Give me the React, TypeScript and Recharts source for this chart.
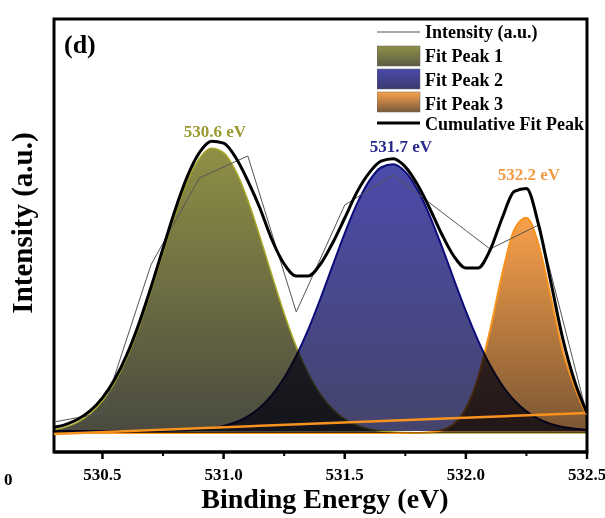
import React from 'react';
import {
  ComposedChart,
  Area,
  Line,
  XAxis,
  YAxis,
  Legend,
  ReferenceArea,
} from 'recharts';

// binding energy grid of the fitted curves (eV)
const energy = [
  530.3, 530.35, 530.4, 530.45, 530.5, 530.55, 530.6, 530.65, 530.7, 530.75,
  530.8, 530.85, 530.9, 530.95, 531.0, 531.05, 531.1, 531.15, 531.2, 531.25,
  531.3, 531.35, 531.4, 531.45, 531.5, 531.55, 531.6, 531.65, 531.7, 531.75,
  531.8, 531.85, 531.9, 531.95, 532.0, 532.05, 532.1, 532.15, 532.2, 532.25,
  532.3, 532.35, 532.4, 532.45, 532.5,
];

const fitPeak1 = [
  22.2, 25.1, 30.2, 38.4, 51.0, 69.2, 93.7, 124.6, 160.8, 199.7,
  237.8, 270.5, 293.6, 303.7, 299.3, 281.1, 251.8, 215.3, 176.2, 138.6,
  105.4, 78.2, 57.6, 42.9, 33.0, 26.8, 23.1, 21.1, 20.0, 19.5,
  19.2, 19, 19, 19, 19, 19, 19, 19, 19, 19,
  19, 19, 19, 19, 19,
];

const fitPeak2 = [
  21, 21, 21, 21, 21, 21, 21, 21, 21, 21.2,
  21.4, 21.8, 22.5, 23.8, 26.1, 29.8, 35.7, 44.5, 57.1, 74.2,
  96.2, 122.9, 153.5, 186.3, 218.7, 247.8, 270.6, 284.5, 287.8, 280.1,
  262.4, 236.7, 205.9, 173.0, 140.9, 111.7, 86.8, 66.8, 51.6, 40.6,
  33.0, 28.1, 25.0, 23.2, 22.1,
];

const fitPeak3 = [
  19, 19, 19, 19, 19, 19, 19, 19, 19, 19,
  19, 19, 19, 19, 19, 19, 19, 19, 19, 19,
  19, 19, 19, 19, 19, 19, 19, 19, 19, 19,
  19, 19.7, 21.7, 28.0, 43.5, 74.2, 121.9, 178.0, 222.3, 234.2,
  207.5, 155.7, 101.1, 64.4, 35.8,
];

const cumulative = [
  24.7, 27.7, 33.0, 41.3, 54.1, 72.4, 97.0, 128.1, 164.5, 203.6,
  242.1, 275.3, 299.3, 310.8, 308.8, 294.5, 271.2, 243.7, 212, 188,
  176, 176, 188, 209, 234, 259.6, 278.8, 290.8, 293.2, 285.1,
  267.4, 244, 218, 196, 184, 184, 202, 234, 260.7, 263.5,
  227.5, 171.0, 113.4, 70, 39,
];

// measured spectrum
const rawEnergy = [530.3, 530.5, 530.7, 530.9, 531.1, 531.3, 531.5, 531.7, 531.9, 532.1, 532.3, 532.5];
const rawIntensity = [30, 39, 187, 274, 296, 140, 247, 277, 240, 203, 227, 37];

// linear background
const baseEnergy = [530.3, 532.5];
const baseIntensity = [18, 39];

const xTicks = [530.5, 530.75, 531.0, 531.25, 531.5, 531.75, 532.0, 532.25, 532.5];
const legendLabels = ['Intensity (a.u.)', 'Fit Peak 1', 'Fit Peak 2', 'Fit Peak 3', 'Cumulative Fit Peak'];
const peakLabels = ['530.6 eV', '531.7 eV', '532.2 eV'];

const toRows = (xs: number[], ys: number[]) => xs.map((e, i) => ({ e, v: ys[i] }));

const peak1Data = toRows(energy, fitPeak1);
const peak2Data = toRows(energy, fitPeak2);
const peak3Data = toRows(energy, fitPeak3);
const cumData = toRows(energy, cumulative);
const rawData = toRows(rawEnergy, rawIntensity);
const baseData = toRows(baseEnergy, baseIntensity);

const FONT = '"Liberation Serif", "Times New Roman", serif';

const AxisTick = (props: any) => {
  const { x, y, payload } = props;
  const major = Math.abs(payload.value * 2 - Math.round(payload.value * 2)) < 1e-6;
  return (
    <g>
      <line x1={x} x2={x} y1={y} y2={y + (major ? 7 : 4)} stroke="#000" strokeWidth={major ? 2.5 : 2} />
      {major && (
        <text x={x} y={y + 28} textAnchor="middle" fontFamily={FONT} fontWeight="bold" fontSize={17} fill="#000">
          {payload.value.toFixed(1)}
        </text>
      )}
    </g>
  );
};

const swatchFill = ['', 'url(#lg1)', 'url(#lg2)', 'url(#lg3)', ''];

const LegendBox = () => (
  <svg width={215} height={118} style={{ display: 'block' }}>
    <defs>
      <linearGradient id="lg1" x1="0" y1="0" x2="0" y2="1">
        <stop offset="0%" stopColor="#8f8f48" />
        <stop offset="100%" stopColor="#5c5c44" />
      </linearGradient>
      <linearGradient id="lg2" x1="0" y1="0" x2="0" y2="1">
        <stop offset="0%" stopColor="#4a4aae" />
        <stop offset="100%" stopColor="#3a3a6e" />
      </linearGradient>
      <linearGradient id="lg3" x1="0" y1="0" x2="0" y2="1">
        <stop offset="0%" stopColor="#f9a24c" />
        <stop offset="100%" stopColor="#7a5a3c" />
      </linearGradient>
    </defs>
    {legendLabels.map((label, i) => {
      const rowY = [12, 36, 59, 82, 103][i];
      const textY = [18, 42, 66, 90, 110][i];
      return (
        <g key={label}>
          {i === 0 && <line x1={0} x2={43} y1={rowY} y2={rowY} stroke="#555" strokeWidth={1.2} />}
          {i === 4 && <line x1={0} x2={43} y1={rowY} y2={rowY} stroke="#000" strokeWidth={3} />}
          {i > 0 && i < 4 && (
            <rect x={0} y={rowY - 10} width={43} height={20} fill={swatchFill[i]} stroke="#666" strokeWidth={0.5} />
          )}
          <text x={48} y={textY} fontFamily={FONT} fontWeight="bold" fontSize={18} fill="#000">
            {label}
          </text>
        </g>
      );
    })}
  </svg>
);

export default function App() {
  return (
    <div style={{ position: 'absolute', left: 0, top: 0, width: 605, height: 518, background: '#fff' }}>
      <style>{`.recharts-area { mix-blend-mode: multiply; }`}</style>
      <ComposedChart width={605} height={518} margin={{ top: 19, right: 18, bottom: 36, left: 54 }}>
        <defs>
          <linearGradient id="g1" x1="0" y1="0" x2="0" y2="1">
            <stop offset="0%" stopColor="#8f8f45" />
            <stop offset="100%" stopColor="#4a4a40" />
          </linearGradient>
          <linearGradient id="g2" x1="0" y1="0" x2="0" y2="1">
            <stop offset="0%" stopColor="#4b4bab" />
            <stop offset="100%" stopColor="#44446c" />
          </linearGradient>
          <linearGradient id="g3" x1="0" y1="0" x2="0" y2="1">
            <stop offset="0%" stopColor="#f9a04a" />
            <stop offset="100%" stopColor="#7a5634" />
          </linearGradient>
        </defs>
        <XAxis
          dataKey="e"
          type="number"
          domain={[530.3, 532.5]}
          ticks={xTicks}
          allowDataOverflow
          height={30}
          tickSize={0}
          tickMargin={0}
          tickLine={false}
          axisLine={{ stroke: '#000', strokeWidth: 3 }}
          tick={<AxisTick />}
          interval={0}
        />
        <YAxis type="number" domain={[0, 433]} hide allowDataOverflow />
        <Legend
          layout="horizontal"
          verticalAlign="middle"
          align="center"
          wrapperStyle={{ left: 377, top: 20, width: 215, height: 118 }}
          content={<LegendBox />}
        />
        <Area data={peak1Data} dataKey="v" type="monotone" baseValue={19} fill="url(#g1)" fillOpacity={1}
          stroke="#a8a826" strokeWidth={1.5} isAnimationActive={false} />
        <Area data={peak2Data} dataKey="v" type="monotone" baseValue={21} fill="url(#g2)" fillOpacity={1}
          stroke="#0c0c7a" strokeWidth={2} isAnimationActive={false} />
        <Area data={peak3Data} dataKey="v" type="monotone" baseValue={19} fill="url(#g3)" fillOpacity={1}
          stroke="#f7931e" strokeWidth={2} isAnimationActive={false} />
        <Line data={baseData} dataKey="v" type="linear" stroke="#f7931e" strokeWidth={2.5} dot={false}
          isAnimationActive={false} />
        <Line data={rawData} dataKey="v" type="linear" stroke="#555" strokeWidth={1} dot={false}
          isAnimationActive={false} />
        <Line data={cumData} dataKey="v" type="monotone" stroke="#000" strokeWidth={3} dot={false}
          isAnimationActive={false} />
        <ReferenceArea x1={530.3} x2={532.5} y1={0} y2={433} fill="none" stroke="#000" strokeWidth={3}
          ifOverflow="visible" />
        <text x={64} y={53} fontFamily={FONT} fontWeight="bold" fontSize={26} fill="#000">(d)</text>
        <text x={215} y={137} textAnchor="middle" fontFamily={FONT} fontWeight="bold" fontSize={17} fill="#9a9a30">
          {peakLabels[0]}
        </text>
        <text x={401} y={152} textAnchor="middle" fontFamily={FONT} fontWeight="bold" fontSize={17} fill="#2a2a8c">
          {peakLabels[1]}
        </text>
        <text x={529} y={180} textAnchor="middle" fontFamily={FONT} fontWeight="bold" fontSize={17} fill="#f29a45">
          {peakLabels[2]}
        </text>
        <text x={325} y={508} textAnchor="middle" fontFamily={FONT} fontWeight="bold" fontSize={28} fill="#000">
          Binding Energy (eV)
        </text>
        <text x={32} y={223} transform="rotate(-90 32 223)" textAnchor="middle" fontFamily={FONT}
          fontWeight="bold" fontSize={29} fill="#000">
          Intensity (a.u.)
        </text>
        <text x={4} y={485} fontFamily={FONT} fontWeight="bold" fontSize={17} fill="#000">0</text>
      </ComposedChart>
    </div>
  );
}
